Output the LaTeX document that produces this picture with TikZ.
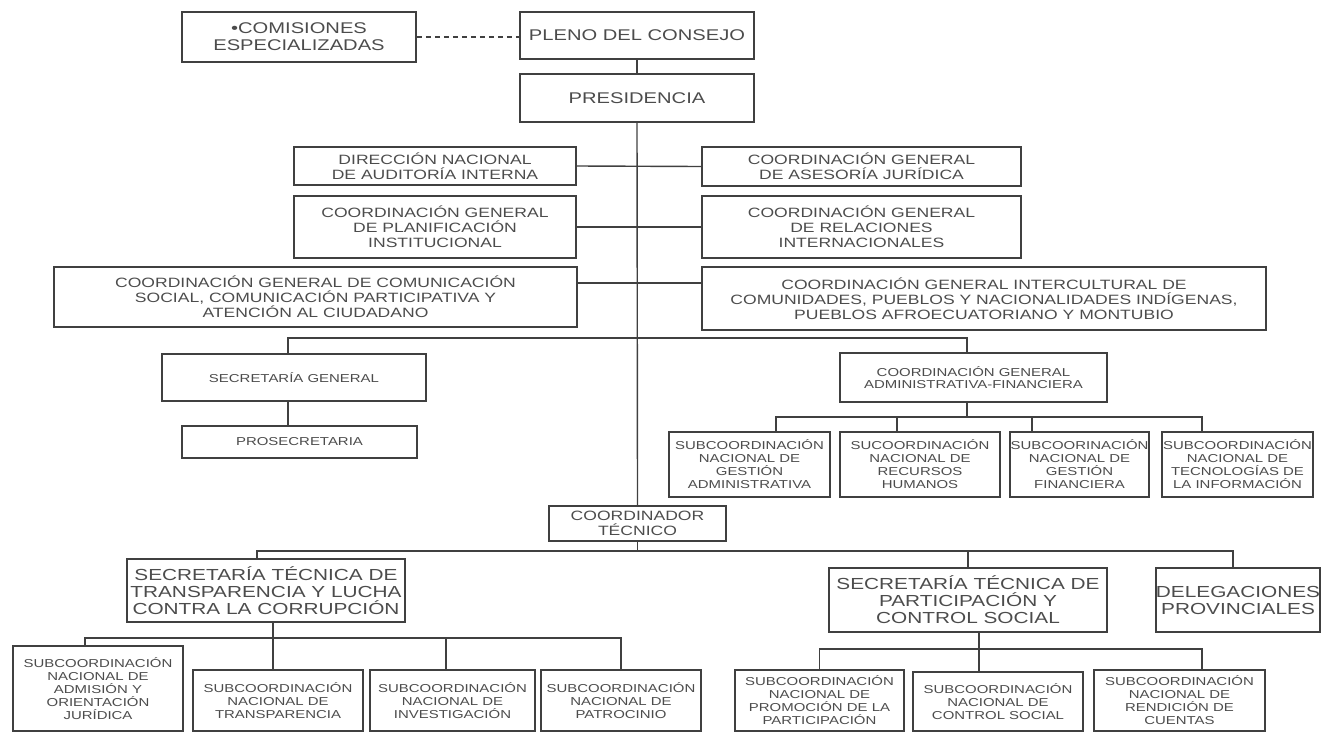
\documentclass[tikz,border=0pt]{standalone}
\usepackage{fontspec}
\newfontfamily\orgfont[FakeStretch=1.3]{Liberation Sans}
\usetikzlibrary{calc,positioning}

\begin{document}
\begin{tikzpicture}[x=1pt,y=-1pt]

  \tikzstyle{box}=[rectangle,draw=black!75,line width=1.5pt,text=black!70,inner sep=0pt,align=center]
  \tikzstyle{topbox}=[box,font=\orgfont\fontsize{15.5}{17}\selectfont]
  \tikzstyle{midbox}=[box,font=\orgfont\fontsize{13.5}{15}\selectfont]
  \tikzstyle{smallbox}=[box,font=\orgfont\fontsize{11.5}{13}\selectfont]
  \tikzstyle{bigbox}=[box,font=\orgfont\fontsize{16}{17}\selectfont]
  \tikzstyle{conn}=[draw=black!75,line width=1.4pt]

  \useasboundingbox (0,0) rectangle (1321,734);

  % top
  \node[topbox,minimum width=234,minimum height=50] (CM) at (299,37) {\textbullet COMISIONES\\ESPECIALIZADAS};
  \node[topbox,minimum width=234,minimum height=47] (PL) at (637,35.5) {PLENO DEL CONSEJO};
  \node[topbox,minimum width=234,minimum height=48] (PR) at (637,98) {PRESIDENCIA};

  % asesoria y apoyo
  \node[midbox,minimum width=282,minimum height=38] (DN) at (435,166) {DIRECCIÓN NACIONAL\\DE AUDITORÍA INTERNA};
  \node[midbox,minimum width=319,minimum height=39] (AJ) at (861.5,166.5) {COORDINACIÓN GENERAL\\DE ASESORÍA JURÍDICA};
  \node[midbox,minimum width=282,minimum height=62] (PI) at (435,227) {COORDINACIÓN GENERAL\\DE PLANIFICACIÓN\\INSTITUCIONAL};
  \node[midbox,minimum width=319,minimum height=62] (RI) at (861.5,227) {COORDINACIÓN GENERAL\\DE RELACIONES\\INTERNACIONALES};
  \node[midbox,minimum width=523,minimum height=60] (CS) at (315.5,297) {COORDINACIÓN GENERAL DE COMUNICACIÓN\\SOCIAL, COMUNICACIÓN PARTICIPATIVA Y\\ATENCIÓN AL CIUDADANO};
  \node[midbox,minimum width=564,minimum height=63] (CI) at (984,298.5) {COORDINACIÓN GENERAL INTERCULTURAL DE\\COMUNIDADES, PUEBLOS Y NACIONALIDADES INDÍGENAS,\\PUEBLOS AFROECUATORIANO Y MONTUBIO};

  % secretaria y administrativa
  \node[smallbox,minimum width=264,minimum height=47] (SG) at (294,377.5) {SECRETARÍA GENERAL};
  \node[smallbox,minimum width=235,minimum height=32] (PS) at (299.5,442) {PROSECRETARIA};
  \node[smallbox,minimum width=267,minimum height=49,font=\orgfont\fontsize{11.5}{12}\selectfont] (AF) at (973.5,377.5) {COORDINACIÓN GENERAL\\ADMINISTRATIVA-FINANCIERA};
  \node[smallbox,minimum width=161,minimum height=65] (GA) at (749.5,464.5) {SUBCOORDINACIÓN\\NACIONAL DE\\GESTIÓN\\ADMINISTRATIVA};
  \node[smallbox,minimum width=160,minimum height=65] (RH) at (920,464.5) {SUCOORDINACIÓN\\NACIONAL DE\\RECURSOS\\HUMANOS};
  \node[smallbox,minimum width=139,minimum height=65] (GF) at (1079.5,464.5) {SUBCOORINACIÓN\\NACIONAL DE\\GESTIÓN\\FINANCIERA};
  \node[smallbox,minimum width=151,minimum height=65] (TI) at (1237.5,464.5) {SUBCOORDINACIÓN\\NACIONAL DE\\TECNOLOGÍAS DE\\LA INFORMACIÓN};

  % coordinacion tecnica
  \node[midbox,minimum width=177,minimum height=35] (CT) at (637.5,523.5) {COORDINADOR\\TÉCNICO};
  \node[bigbox,minimum width=278,minimum height=63] (TR) at (266,590.5) {SECRETARÍA TÉCNICA DE\\TRANSPARENCIA Y LUCHA\\CONTRA LA CORRUPCIÓN};
  \node[bigbox,minimum width=278,minimum height=64] (PC) at (968,600) {SECRETARÍA TÉCNICA DE\\PARTICIPACIÓN Y\\CONTROL SOCIAL};
  \node[bigbox,minimum width=162,minimum height=64] (DP) at (1238,600) {DELEGACIONES\\PROVINCIALES};

  \node[smallbox,minimum width=170,minimum height=85] (AO) at (98,688.5) {SUBCOORDINACIÓN\\NACIONAL DE\\ADMISIÓN Y\\ORIENTACIÓN\\JURÍDICA};
  \node[smallbox,minimum width=170,minimum height=61] (TS) at (278,700.5) {SUBCOORDINACIÓN\\NACIONAL DE\\TRANSPARENCIA};
  \node[smallbox,minimum width=165,minimum height=61] (IN) at (452.5,700.5) {SUBCOORDINACIÓN\\NACIONAL DE\\INVESTIGACIÓN};
  \node[smallbox,minimum width=160,minimum height=61] (PA) at (621,700.5) {SUBCOORDINACIÓN\\NACIONAL DE\\PATROCINIO};
  \node[smallbox,minimum width=169,minimum height=61] (PM) at (819.5,700.5) {SUBCOORDINACIÓN\\NACIONAL DE\\PROMOCIÓN DE LA\\PARTICIPACIÓN};
  \node[smallbox,minimum width=170,minimum height=59] (CO) at (998,701.5) {SUBCOORDINACIÓN\\NACIONAL DE\\CONTROL SOCIAL};
  \node[smallbox,minimum width=171,minimum height=61] (RC) at (1179.5,700.5) {SUBCOORDINACIÓN\\NACIONAL DE\\RENDICIÓN DE\\CUENTAS};

  % buses
  \coordinate (B1) at (0,338);
  \coordinate (B2) at (0,417);
  \coordinate (B3) at (0,551);
  \coordinate (B4) at (0,638);
  \coordinate (B5) at (0,649);

  \draw[conn,line width=1.1pt,dash pattern=on 5pt off 4pt] (CM.east) -- (CM.east -| PL.west);
  \draw[conn] (PL) -- (PR);
  \draw[conn] (PR.south) -- (CT.north);

  \draw[conn] (DN.east) -- (AJ.west);
  \draw[conn] (PI.east) -- (RI.west);
  \draw[conn] ([yshift=14pt]CS.east) -- ([yshift=14pt]CS.east -| CI.west);

  \draw[conn] ([xshift=-6pt]SG.north) |- ([xshift=-6.5pt]AF.north |- B1) -- ([xshift=-6.5pt]AF.north);
  \draw[conn] ([xshift=-6pt]SG.south) -- ([xshift=-6pt]SG.south |- PS.north);

  \draw[conn] ([xshift=-6.5pt]AF.south) -- ([xshift=-6.5pt]AF.south |- B2);
  \draw[conn] ([xshift=26.5pt]GA.north) |- ([xshift=-35.5pt]TI.north |- B2) -- ([xshift=-35.5pt]TI.north);
  \draw[conn] ([xshift=-23pt]RH.north) -- ([xshift=-23pt]RH.north |- B2);
  \draw[conn] ([xshift=-47.5pt]GF.north) -- ([xshift=-47.5pt]GF.north |- B2);

  \draw[conn] (CT.south) -- (CT.south |- B3);
  \draw[conn] ([xshift=-9pt]TR.north) |- ([xshift=-5pt]DP.north |- B3) -- ([xshift=-5pt]DP.north);
  \draw[conn] (PC.north) -- (PC.north |- B3);

  \draw[conn] ([xshift=7pt]TR.south) -- ([xshift=7pt]TR.south |- B4);
  \draw[conn] ([xshift=-13pt]AO.north) |- (PA.north |- B4) -- (PA.north);
  \draw[conn] ([xshift=-5pt]TS.north) -- ([xshift=-5pt]TS.north |- B4);
  \draw[conn] ([xshift=-6.5pt]IN.north) -- ([xshift=-6.5pt]IN.north |- B4);

  \draw[conn] ([xshift=11pt]PC.south) -- ([xshift=11pt]PC.south |- CO.north);
  \draw[conn] (PM.north) |- ([xshift=22.5pt]RC.north |- B5) -- ([xshift=22.5pt]RC.north);

\end{tikzpicture}
\end{document}
